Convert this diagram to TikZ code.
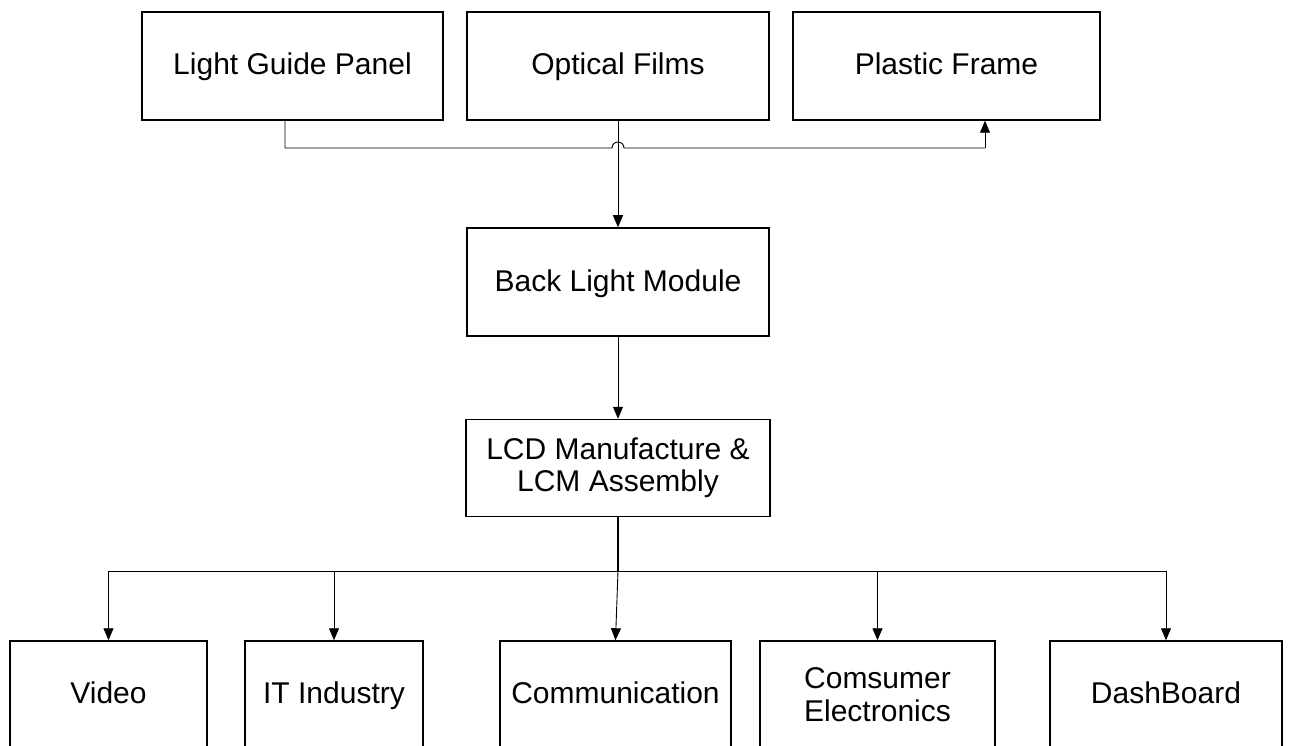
\documentclass[tikz,border=0pt]{standalone}
\usepackage{fontspec}
\setmainfont{Liberation Sans}
\usetikzlibrary{arrows.meta,calc}
\begin{document}
\begin{tikzpicture}[x=1pt,y=-1pt,
  box/.style={draw, line width=1.5pt, inner sep=0pt, align=center,
    font=\fontsize{30}{33}\selectfont},
  onebox/.style={box, text height=22pt, text depth=4pt},
  conn/.style={draw, line width=0.9pt, -{Triangle[length=12pt,width=10pt]}},
  plain/.style={draw, line width=0.9pt}]
\clip (0,0) rectangle (1291,746);
\fill[white] (0,0) rectangle (1291,746);
% top row
\node[onebox, minimum width=301pt, minimum height=108pt] (lgp) at (292.5,66) {Light Guide Panel};
\node[onebox, minimum width=302pt, minimum height=108pt] (of) at (618,66) {Optical Films};
\node[onebox, minimum width=307pt, minimum height=108pt] (pf) at (946.5,66) {Plastic Frame};
% middle
\node[onebox, minimum width=302pt, minimum height=108pt] (blm) at (618,282) {Back Light Module};
\node[box, minimum width=304pt, minimum height=97pt] (lcd) at (618,468) {LCD Manufacture \&\\[-1pt]LCM Assembly};
% bottom row
\node[onebox, minimum width=197pt, minimum height=107pt] (video) at (108.5,694.5) {Video};
\node[onebox, minimum width=178pt, minimum height=107pt] (it) at (334,694.5) {IT Industry};
\node[onebox, minimum width=231pt, minimum height=107pt] (comm) at (615.5,694.5) {Communication};
\node[box, minimum width=235pt, minimum height=107pt] (ce) at (877.5,694.5) {Comsumer\\Electronics};
\node[onebox, minimum width=232pt, minimum height=107pt] (dash) at (1166,694.5) {DashBoard};
% top connectors
\coordinate (lgpout) at ($(lgp.south)+(-7.5,0)$);
\coordinate (pfin) at ($(pf.south)+(38.5,0)$);
\coordinate (hop) at (of.south |- 0,148);
\draw[plain] (lgpout) |- ([xshift=-6pt]hop) arc[start angle=180, end angle=0, radius=6pt] -- (hop -| pfin);
\draw[conn] (hop -| pfin) -- (pfin);
\draw[conn] (of.south) -- (blm.north);
\draw[conn] (blm.south) -- (lcd.north);
% fan out
\coordinate (fan) at (lcd.south |- 0,571);
\draw[line width=2pt] (lcd.south) -- (fan);
\draw[plain] (video.north |- fan) -- (dash.north |- fan);
\draw[conn] (video.north |- fan) -- (video.north);
\draw[conn] (it.north |- fan) -- (it.north);
\draw[conn] (fan) -- (comm.north);
\draw[conn] (ce.north |- fan) -- (ce.north);
\draw[conn] (dash.north |- fan) -- (dash.north);
\end{tikzpicture}
\end{document}
